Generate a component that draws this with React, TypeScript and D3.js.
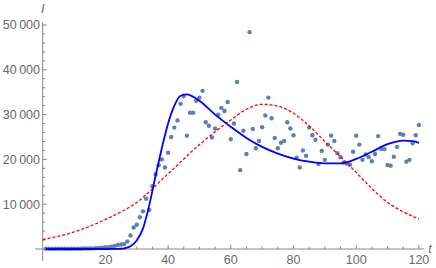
import React from 'react'
import * as d3 from 'd3'

// observed cases, one point per day t = 1..120
const observed = [
  50, 50, 50, 50, 50, 50, 50, 50, 50, 50,
  60, 70, 100, 100, 120, 150, 200, 250, 300, 350,
  400, 500, 700, 900, 1000, 1100, 1700, 3000, 4800, 5400,
  7100, 8400, 11200, 8700, 14000, 16700, 18700, 20000, 18200, 21500,
  25000, 27100, 28700, 32400, 34150, 25300, 30400, 30400, 33100, 33800,
  35300, 28300, 27500, 24900, 26900, 30000, 31500, 30800, 32800, 24500,
  28000, 37300, 17600, 26400, 21200, 48400, 26800, 22500, 24100, 27200,
  29800, 33800, 29200, 24800, 22500, 23700, 24100, 28300, 26900, 25400,
  20400, 18200, 22000, 20800, 27100, 25400, 24400, 19000, 21900, 19900,
  23300, 25300, 24100, 21400, 20500, 19300, 19100, 18800, 21700, 25300,
  23300, 19900, 21100, 20500, 19600, 21200, 25200, 22300, 22300, 18750,
  18600, 20600, 22800, 25700, 25500, 19500, 19900, 23600, 25400, 27700,
]

// fitted model (solid blue)
const fitT = [1, 10, 20, 24, 26, 28, 30, 32, 34, 36, 38, 40, 42, 44, 46, 48, 50, 55, 60, 65, 70, 75, 80, 85, 90, 95, 100, 105, 110, 115, 118, 120]
const fitI = [0, 0, 0, 20, 150, 600, 1900, 4600, 9800, 16300, 22500, 28000, 32000, 34200, 34500, 34000, 33100, 30000, 27300, 24800, 22800, 21300, 20200, 19500, 19100, 19100, 20100, 21700, 23400, 24200, 24100, 23700]

// simple model (red dashed)
const simpleT = [0, 10, 20, 30, 40, 50, 60, 65, 70, 75, 80, 85, 90, 95, 100, 105, 110, 115, 120]
const simpleI = [2100, 3800, 6600, 10400, 16800, 23300, 28800, 31200, 32300, 31900, 30300, 27500, 24000, 20600, 17100, 13500, 10400, 8300, 6700]

const xTicks = [20, 40, 60, 80, 100, 120]
const yTicks = [10000, 20000, 30000, 40000, 50000]

const W = 436
const H = 268

export default function App() {
  const x = d3.scaleLinear().domain([0, 120]).range([42.7, 418.9])
  const y = d3.scaleLinear().domain([0, 50000]).range([249, 25])

  const line = d3.line<[number, number]>()
    .x(d => x(d[0]))
    .y(d => y(d[1]))
    .curve(d3.curveMonotoneX)

  const fitPath = line(fitT.map((t, i) => [t, fitI[i]]))
  const simplePath = line(simpleT.map((t, i) => [t, simpleI[i]]))

  const fmt = (v: number) => d3.format(',')(v).replace(',', '\u2009')
  const xMinor = d3.range(5, 121, 5).filter(v => v % 20 !== 0)
  const yMinor = d3.range(2000, 50001, 2000).filter(v => v % 10000 !== 0)

  const axisColor = '#888'
  const textColor = '#6a6a6a'
  const font = '"Liberation Sans", Arial, sans-serif'
  const fs = 12.5

  return (
    <svg width={W} height={H} style={{ position: 'absolute', left: 0, top: 0 }}>
      <rect width={W} height={H} fill="#fff" />
      {/* axes */}
      <line x1={35} x2={424} y1={y(0)} y2={y(0)} stroke={axisColor} />
      <line x1={x(0)} x2={x(0)} y1={261} y2={22} stroke={axisColor} />
      {xTicks.map(t => (
        <g key={'xt' + t}>
          <line x1={x(t)} x2={x(t)} y1={y(0)} y2={y(0) - 4} stroke={axisColor} />
          <text x={x(t)} y={264} textAnchor="middle" fontSize={fs} fontFamily={font} fill={textColor}>{t}</text>
        </g>
      ))}
      {xMinor.map(t => (
        <line key={'xm' + t} x1={x(t)} x2={x(t)} y1={y(0)} y2={y(0) - 2.5} stroke={axisColor} />
      ))}
      {yTicks.map(v => (
        <g key={'yt' + v}>
          <line x1={x(0)} x2={x(0) + 4} y1={y(v)} y2={y(v)} stroke={axisColor} />
          <text x={40} y={y(v) + 4.4} textAnchor="end" fontSize={fs} fontFamily={font} fill={textColor}>{fmt(v)}</text>
        </g>
      ))}
      {yMinor.map(v => (
        <line key={'ym' + v} x1={x(0)} x2={x(0) + 2.5} y1={y(v)} y2={y(v)} stroke={axisColor} />
      ))}
      <text x={430} y={253} fontSize={fs} fontStyle="italic" fontFamily={font} fill={textColor} textAnchor="middle">t</text>
      <text x={x(0)} y={13} fontSize={fs} fontStyle="italic" fontFamily={font} fill={textColor} textAnchor="middle">I</text>

      {/* observations */}
      {observed.map((v, i) => (
        <circle key={'p' + i} cx={x(i + 1)} cy={y(v)} r={2.2} fill="#5E81B5" />
      ))}
      {/* curves */}
      <path d={simplePath ?? ''} fill="none" stroke="#f00" strokeWidth={1.3} strokeDasharray="3,2" />
      <path d={fitPath ?? ''} fill="none" stroke="#00f" strokeWidth={1.8} />
    </svg>
  )
}
